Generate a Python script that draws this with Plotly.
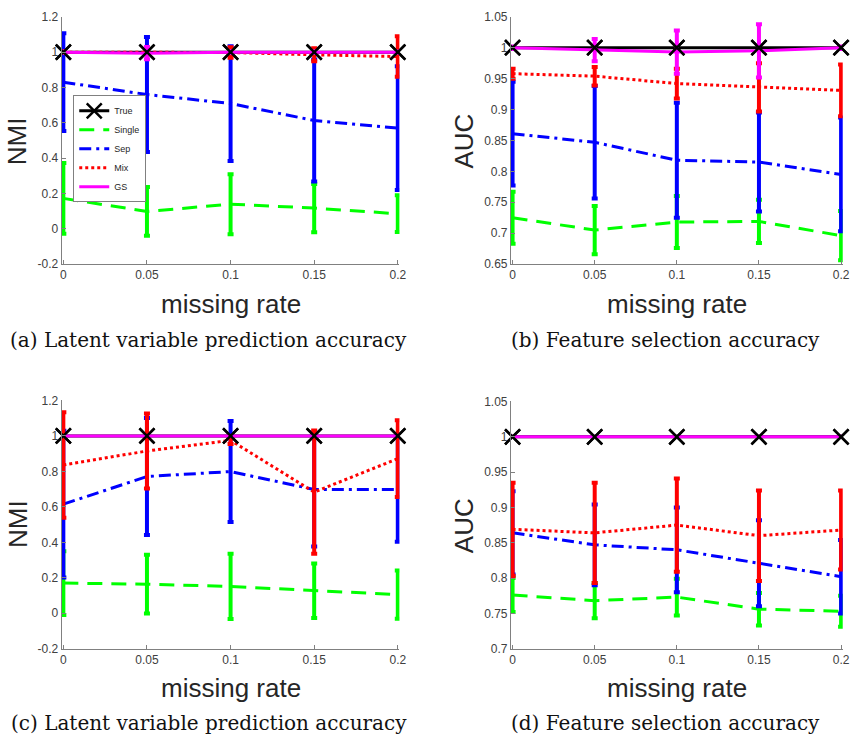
import plotly.graph_objects as go

W, H = 856, 745

rates = [0, 0.05, 0.1, 0.15, 0.2]
rate_labels = ["0", "0.05", "0.1", "0.15", "0.2"]

series_names = ["True", "Single", "Sep", "Mix", "GS"]

# ---- panel (a): NMI ----
true_a = [1, 1, 1, 1, 1]
true_a_err = [0, 0, 0, 0, 0]
single_a = [0.172, 0.098, 0.139, 0.117, 0.085]
single_a_err = [0.2, 0.138, 0.17, 0.137, 0.104]
sep_a = [0.83, 0.76, 0.709, 0.613, 0.57]
sep_a_err = [0.277, 0.325, 0.325, 0.345, 0.35]
mix_a = [1.0, 1.0, 0.998, 0.985, 0.975]
mix_a_err = [0.005, 0.01, 0.03, 0.037, 0.115]
gs_a = [1.0, 0.994, 1.0, 1.0, 1.0]
gs_a_err = [0.003, 0.035, 0.005, 0.005, 0.003]

# ---- panel (b): AUC ----
true_b = [1, 1, 1, 1, 1]
true_b_err = [0, 0, 0, 0, 0]
single_b = [0.725, 0.705, 0.718, 0.719, 0.696]
single_b_err = [0.042, 0.039, 0.042, 0.035, 0.04]
sep_b = [0.861, 0.847, 0.818, 0.815, 0.795]
sep_b_err = [0.084, 0.091, 0.093, 0.08, 0.092]
mix_b = [0.958, 0.954, 0.942, 0.936, 0.931]
mix_b_err = [0.008, 0.015, 0.024, 0.039, 0.042]
gs_b = [1.0, 0.996, 0.993, 0.995, 1.0]
gs_b_err = [0.002, 0.018, 0.035, 0.043, 0.002]

# ---- panel (c): NMI ----
true_c = [1, 1, 1, 1, 1]
true_c_err = [0, 0, 0, 0, 0]
single_c = [0.17, 0.164, 0.151, 0.127, 0.105]
single_c_err = [0.18, 0.166, 0.184, 0.154, 0.136]
sep_c = [0.615, 0.771, 0.799, 0.698, 0.698]
sep_c_err = [0.414, 0.33, 0.285, 0.322, 0.295]
mix_c = [0.836, 0.915, 0.975, 0.683, 0.872]
mix_c_err = [0.297, 0.212, 0.02, 0.348, 0.217]
gs_c = [1, 1, 1, 1, 1]
gs_c_err = [0, 0, 0, 0, 0]

# ---- panel (d): AUC ----
true_d = [1, 1, 1, 1, 1]
true_d_err = [0, 0, 0, 0, 0]
single_d = [0.776, 0.768, 0.773, 0.756, 0.753]
single_d_err = [0.024, 0.025, 0.026, 0.023, 0.022]
sep_d = [0.864, 0.847, 0.84, 0.821, 0.802]
sep_d_err = [0.059, 0.057, 0.06, 0.061, 0.052]
mix_d = [0.869, 0.864, 0.875, 0.86, 0.868]
mix_d_err = [0.066, 0.071, 0.066, 0.064, 0.056]
gs_d = [1, 1, 1, 1, 1]
gs_d_err = [0, 0, 0, 0, 0]

nmi_ticks = [-0.2, 0, 0.2, 0.4, 0.6, 0.8, 1, 1.2]
nmi_labels = ["-0.2", "0", "0.2", "0.4", "0.6", "0.8", "1", "1.2"]
auc_ticks_b = [0.65, 0.7, 0.75, 0.8, 0.85, 0.9, 0.95, 1, 1.05]
auc_labels_b = ["0.65", "0.7", "0.75", "0.8", "0.85", "0.9", "0.95", "1", "1.05"]
auc_ticks_d = [0.7, 0.75, 0.8, 0.85, 0.9, 0.95, 1, 1.05]
auc_labels_d = ["0.7", "0.75", "0.8", "0.85", "0.9", "0.95", "1", "1.05"]

captions = ["(a) Latent variable prediction accuracy",
            "(b) Feature selection accuracy",
            "(c) Latent variable prediction accuracy",
            "(d) Feature selection accuracy"]

colors = {"True": "#000000", "Single": "#00ff00", "Sep": "#0000ff",
          "Mix": "#ff0000", "GS": "#ff00ff"}
dashes = {"True": "solid", "Single": "15px,9px", "Sep": "12px,5px,3px,5px",
          "Mix": "3px,3px", "GS": "solid"}

panels = [
    ("x", "y", [(true_a, true_a_err), (single_a, single_a_err), (sep_a, sep_a_err),
                (mix_a, mix_a_err), (gs_a, gs_a_err)]),
    ("x2", "y2", [(true_b, true_b_err), (single_b, single_b_err), (sep_b, sep_b_err),
                  (mix_b, mix_b_err), (gs_b, gs_b_err)]),
    ("x3", "y3", [(true_c, true_c_err), (single_c, single_c_err), (sep_c, sep_c_err),
                  (mix_c, mix_c_err), (gs_c, gs_c_err)]),
    ("x4", "y4", [(true_d, true_d_err), (single_d, single_d_err), (sep_d, sep_d_err),
                  (mix_d, mix_d_err), (gs_d, gs_d_err)]),
]

fig = go.Figure()
for pi, (xa, ya, data) in enumerate(panels):
    for name, (vals, errs) in zip(series_names, data):
        c = colors[name]
        is_true = name == "True"
        fig.add_trace(go.Scatter(
            x=rates, y=vals, xaxis=xa, yaxis=ya, name=name,
            mode="lines+markers" if is_true else "lines",
            line=dict(color=c, width=3, dash=dashes[name]),
            marker=dict(symbol="x-thin", size=15, color=c,
                        line=dict(color=c, width=2.5)) if is_true else None,
            error_y=dict(type="data", array=errs, visible=True, color=c,
                         thickness=4, width=3),
            showlegend=(pi == 0), legendgroup=name, cliponaxis=False,
            hoverinfo="skip",
        ))
    # True markers drawn on top
    fig.add_trace(go.Scatter(
        x=rates, y=data[0][0], xaxis=xa, yaxis=ya, mode="markers",
        marker=dict(symbol="x-thin", size=15, color="#000000",
                    line=dict(color="#000000", width=2.5)),
        showlegend=False, cliponaxis=False, hoverinfo="skip",
    ))

# x range padded slightly so edge error bars are not clipped
XPAD = 0.001
XMIN, XMAX = 0, 0.2

def xdomain(px0, px1):
    scale = (px1 - px0) / (XMAX - XMIN)
    return [(px0 - XPAD * scale) / W, (px1 + XPAD * scale) / W]

xdom_l = xdomain(62, 400)
xdom_r = xdomain(516, 848)
ydom_t = [1 - 262 / H, 1 - 10 / H]
ydom_b = [1 - 654 / H, 1 - 401 / H]
ydom_bd = [1 - 654 / H, 1 - 402 / H]

tickfont = dict(family="Liberation Sans, Arial, sans-serif", size=12, color="#404040")
axcommon = dict(showline=True, linecolor="#808080", linewidth=1, showgrid=False,
                zeroline=False, ticks="inside", ticklen=4, tickcolor="#808080",
                tickfont=tickfont, fixedrange=True)

def xaxis(dom, anchor):
    return dict(domain=dom, anchor=anchor, range=[XMIN - XPAD, XMAX + XPAD], tickmode="array",
                tickvals=rates, ticktext=rate_labels, **axcommon)

def yaxis(dom, anchor, rng, tv, tt):
    return dict(domain=dom, anchor=anchor, range=rng, tickmode="array",
                tickvals=tv, ticktext=tt, **axcommon)

annos = []
title_font = dict(family="Liberation Sans, Arial, sans-serif", size=26, color="#262626")
cap_font = dict(family="DejaVu Serif, serif", size=20, color="#111111")

def pa(text, xpx, ypx, font, angle=0):
    annos.append(dict(text=text, x=xpx / W, y=1 - ypx / H, xref="paper", yref="paper",
                      xanchor="center", yanchor="middle", showarrow=False,
                      font=font, textangle=angle))

pa("NMI", 16, 137, title_font, -90)
pa("AUC", 467, 137, title_font, -90)
pa("NMI", 16, 527, title_font, -90)
pa("AUC", 467, 529, title_font, -90)
pa("missing rate", 231, 303, title_font)
pa("missing rate", 682, 303, title_font)
pa("missing rate", 231, 694, title_font)
pa("missing rate", 682, 694, title_font)
pa(captions[0], 209, 339, cap_font)
pa(captions[1], 671, 339, cap_font)
pa(captions[2], 209, 730, cap_font)
pa(captions[3], 671, 730, cap_font)

fig.update_layout(
    width=W, height=H, margin=dict(l=0, r=0, t=0, b=0),
    paper_bgcolor="white", plot_bgcolor="white",
    xaxis=xaxis(xdom_l, "y"),
    yaxis=yaxis(ydom_t, "x", [-0.2, 1.2], nmi_ticks, nmi_labels),
    xaxis2=xaxis(xdom_r, "y2"),
    yaxis2=yaxis(ydom_t, "x2", [0.65, 1.05], auc_ticks_b, auc_labels_b),
    xaxis3=xaxis(xdom_l, "y3"),
    yaxis3=yaxis(ydom_b, "x3", [-0.2, 1.2], nmi_ticks, nmi_labels),
    xaxis4=xaxis(xdom_r, "y4"),
    yaxis4=yaxis(ydom_bd, "x4", [0.7, 1.05], auc_ticks_d, auc_labels_d),
    legend=dict(x=72 / W, y=1 - 90 / H, xanchor="left", yanchor="top",
                bgcolor="white", bordercolor="#808080", borderwidth=1,
                font=dict(family="Liberation Sans, Arial, sans-serif", size=9, color="#262626"),
                itemwidth=30, tracegroupgap=0),
    annotations=annos,
    showlegend=True,
)

fig.write_html("out.html")
